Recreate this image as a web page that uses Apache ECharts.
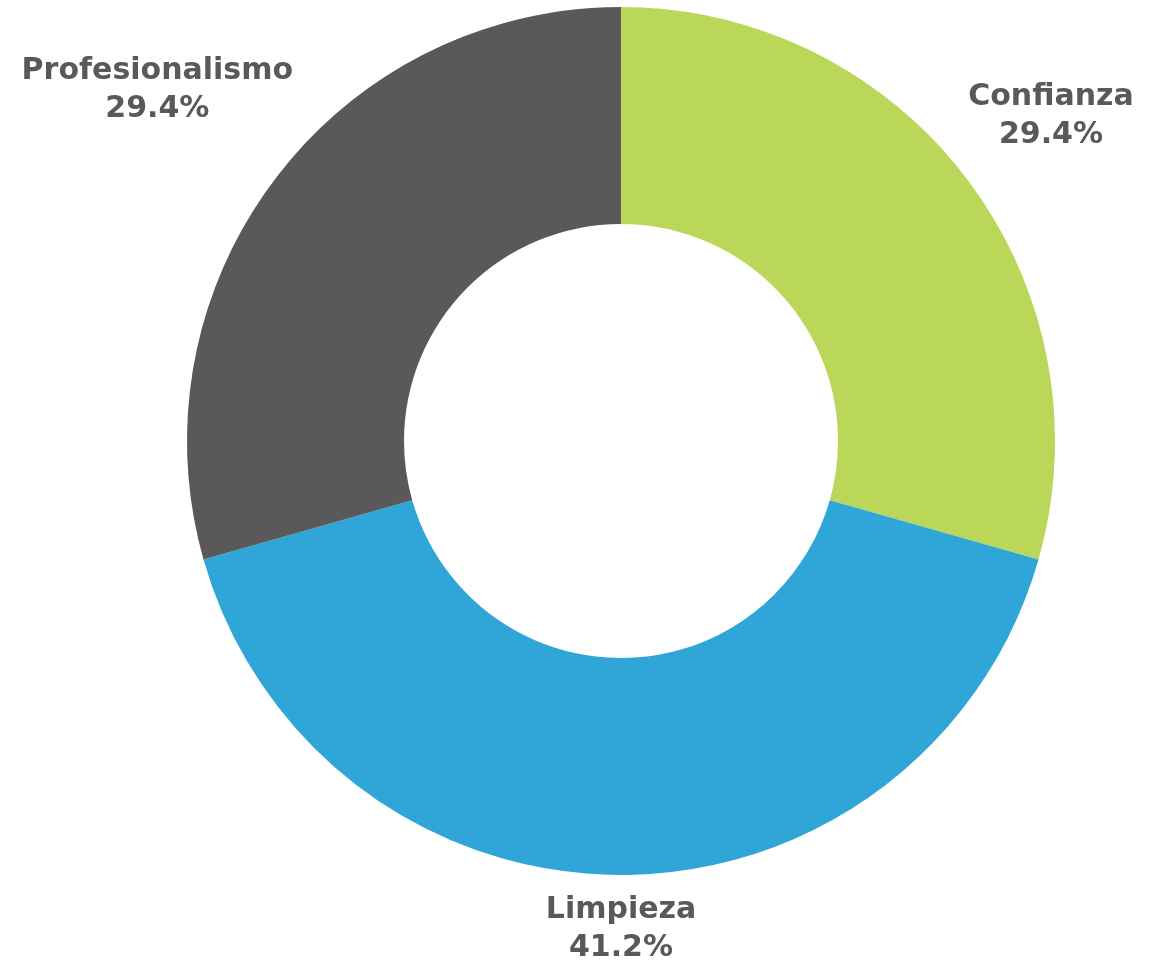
<!DOCTYPE html>
<html>
<head>
<meta charset="utf-8">
<title>Donut</title>
<script src="https://cdn.jsdelivr.net/npm/echarts@6/dist/echarts.min.js"></script>
<style>
  html, body { margin: 0; padding: 0; background: #ffffff; }
  #chart { width: 1156px; height: 974px; }
</style>
</head>
<body>
<div id="chart"></div>
<script>
// Categories, shares (percent) and slice colours
const categories = ['Confianza', 'Limpieza', 'Profesionalismo'];
const values = [29.4, 41.2, 29.4];
const colors = ['#BBD75A', '#2FA5D8', '#595959'];

// Donut geometry (pixels)
const CX = 621, CY = 441, R_OUT = 434, R_IN = 217, GAP = 16;

const total = values.reduce((a, b) => a + b, 0);
// mid-angle of each slice, measured clockwise from 12 o'clock
const midAngles = [];
let acc = 0;
values.forEach(v => {
  midAngles.push((acc + v / 2) / total * 2 * Math.PI);
  acc += v;
});

const chart = echarts.init(document.getElementById('chart'), null, { renderer: 'canvas' });

chart.setOption({
  backgroundColor: '#ffffff',
  animation: false,
  series: [{
    type: 'pie',
    center: [CX, CY],
    radius: [R_IN, R_OUT],
    startAngle: 90,
    clockwise: true,
    avoidLabelOverlap: false,
    data: categories.map((name, i) => ({
      name: name,
      value: values[i],
      itemStyle: { color: colors[i] }
    })),
    itemStyle: { borderWidth: 0 },
    emphasis: { disabled: true },
    label: {
      show: true,
      position: 'outside',
      formatter: p => p.name + '\n' + p.value.toFixed(1) + '%',
      color: '#595959',
      fontFamily: 'DejaVu Sans',
      fontWeight: 'bold',
      fontSize: 30,
      lineHeight: 38,
      align: 'center'
    },
    labelLine: { show: false },
    // push each label box outward along its slice's mid-angle
    labelLayout: function (params) {
      const a = midAngles[params.dataIndex];
      const dx = Math.sin(a), dy = -Math.cos(a);
      const hw = params.labelRect.width / 2, hh = params.labelRect.height / 2;
      const support = hw * Math.abs(dx) + hh * Math.abs(dy);
      const d = R_OUT + GAP + support;
      return {
        x: CX + dx * d,
        y: CY + dy * d,
        align: 'center',
        verticalAlign: 'middle'
      };
    }
  }]
});
</script>
</body>
</html>
